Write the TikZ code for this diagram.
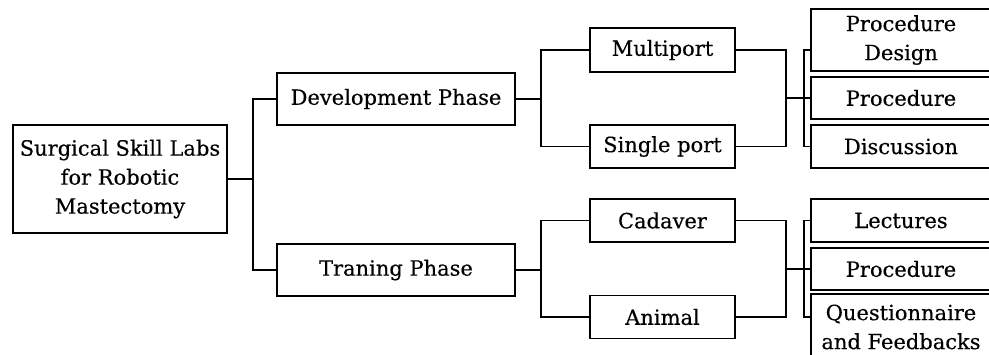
\documentclass[tikz,border=0pt]{standalone}
\usepackage{fontspec}
\setmainfont{DejaVu Serif}[FakeBold=0.35]
\usetikzlibrary{positioning}

\begin{document}
\begin{tikzpicture}[x=1pt, y=-1pt, every node/.style={font=\fontsize{21}{29}\selectfont},
		box/.style={draw, line width=1.6pt, align=center, inner sep=0pt},
		link/.style={line width=1.5pt}]
		\useasboundingbox (0,0) rectangle (989,354);
		\clip (0,0) rectangle (989,354);

		% 根节点
		\node[box, minimum width=214pt, minimum height=108pt] (labs) at (120,179) {Surgical Skill Labs\\for Robotic\\Mastectomy};

		% 阶段
		\node[box, minimum width=238pt, minimum height=52pt] (dev) at (396,99) {Development Phase};
		\node[box, minimum width=238pt, minimum height=52pt] (train) at (396,270) {Traning Phase};
		\draw[link] (labs.east) -- ++(25,0) coordinate (c0) |- (dev.west);
		\draw[link] (c0) |- (train.west);

		% 开发阶段
		\begin{scope}
			\node[box, minimum width=145pt, minimum height=44pt] (multi) at (662.5,50) {Multiport};
			\node[box, minimum width=145pt, minimum height=43pt] (single) at (662.5,146.5) {Single port};
			\draw[link] (dev.east) -- ++(25,0) coordinate (c1) |- (multi.west);
			\draw[link] (c1) |- (single.west);

			\node[box, minimum width=180pt, minimum height=62pt] (design) at (901,40) {Procedure\\Design};
			\node[box, minimum width=180pt, minimum height=42pt] (proc) at (901,98) {Procedure};
			\node[box, minimum width=180pt, minimum height=43pt] (disc) at (901,146.5) {Discussion};
			\draw[link] (multi.east) -- ++(50,0) coordinate (c3) |- (single.east);
			\draw[link] (c3 |- proc.west) -- (proc.west);
			\draw[link] (design.west |- multi) -- ++(-6,0) |- (disc.west);
		\end{scope}

		% 训练阶段
		\begin{scope}
			\node[box, minimum width=145pt, minimum height=43pt] (cadaver) at (662.5,220.5) {Cadaver};
			\node[box, minimum width=145pt, minimum height=43pt] (animal) at (662.5,317) {Animal};
			\draw[link] (train.east) -- ++(25,0) coordinate (c2) |- (cadaver.west);
			\draw[link] (c2) |- (animal.west);

			\node[box, minimum width=180pt, minimum height=43pt] (lect) at (901,220.5) {Lectures};
			\node[box, minimum width=180pt, minimum height=42pt] (proctr) at (901,269) {Procedure};
			\node[box, minimum width=180pt, minimum height=66pt] (quest) at (901,327) {Questionnaire\\and Feedbacks};
			\draw[link] (cadaver.east) -- ++(50,0) coordinate (c4) |- (animal.east);
			\draw[link] (c4 |- proctr.west) -- (proctr.west);
			\draw[link] (lect.west) -- ++(-6,0) |- (quest.west |- animal);
		\end{scope}
	\end{tikzpicture}
\end{document}
